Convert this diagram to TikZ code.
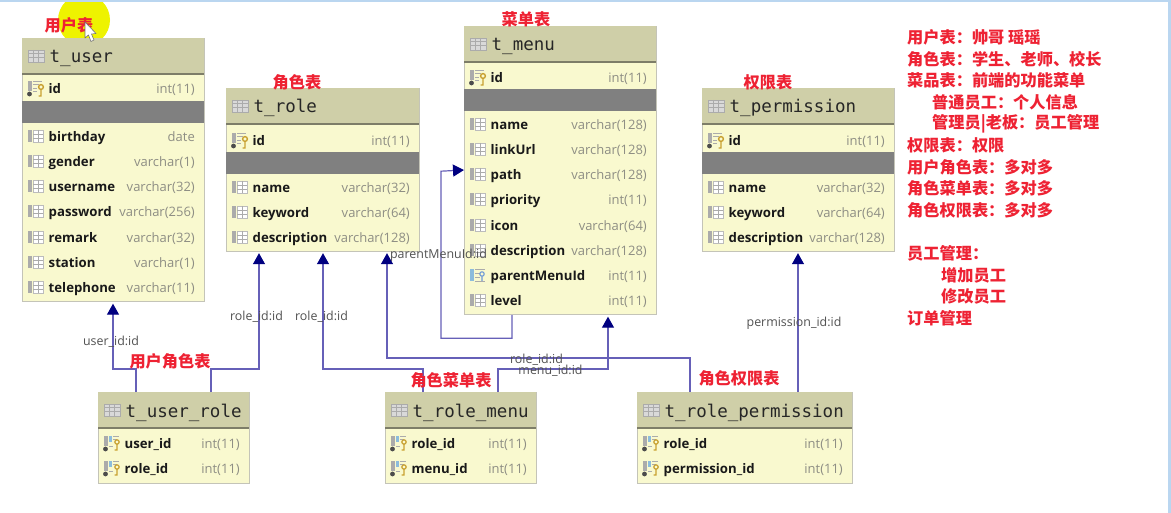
\documentclass[tikz,border=0pt]{standalone}
\usepackage{fontspec}
\setmainfont{Open Sans}
\newfontfamily\cjk{Noto Sans CJK SC}
\newfontfamily\monof{DejaVu Sans Mono}
\usetikzlibrary{arrows.meta}
\definecolor{bodyc}{HTML}{F9F9CF}
\definecolor{headc}{HTML}{CFCFA8}
\definecolor{edgec}{HTML}{C4C4B8}
\definecolor{rulec}{HTML}{7D7D68}
\definecolor{barc}{HTML}{808080}
\definecolor{linec}{HTML}{6660B8}
\definecolor{tipc}{HTML}{000080}
\definecolor{redc}{HTML}{EE2233}
\definecolor{typec}{HTML}{8E8E84}
\definecolor{iconc}{HTML}{ABABAB}
\definecolor{stripc}{HTML}{BAD6F0}
\definecolor{hilite}{HTML}{EEF300}
\definecolor{keyc}{HTML}{C8A030}
\definecolor{fkc}{HTML}{8CBCDC}
\tikzset{
  x=1pt,y=-1pt,
  tablebox/.style={draw=edgec,line width=1.2pt,fill=bodyc,anchor=north west,inner sep=0pt},
  headbox/.style={fill=headc,anchor=north west,inner sep=0pt},
  titletext/.style={font=\monof\fontsize{17.5}{20}\selectfont,text=black!85,anchor=base west,inner sep=0pt},
  fieldname/.style={font=\bfseries\fontsize{13.2}{15}\selectfont,text=black!90,anchor=base west,inner sep=0pt},
  fieldtype/.style={font=\fontsize{13}{15}\selectfont,text=typec,anchor=base east,inner sep=0pt},
  graybar/.style={fill=barc,anchor=north west,inner sep=0pt},
  rel/.style={draw=linec,line width=1.2pt,-{Triangle[length=11pt,width=12pt,color=tipc]}},
  edgelabel/.style={font=\fontsize{12.4}{14}\selectfont,text=black!68,inner sep=0pt},
  redlabel/.style={font=\cjk\bfseries\fontsize{16.2}{18}\selectfont,text=redc,inner sep=0pt},
  noteline/.style={redlabel,anchor=west},
  fieldicon/.pic={
    \fill[iconc] (0,-6) rectangle (4,6);
    \draw[iconc!80,fill=white,line width=.7pt] (5,-6) rectangle (15,6);
    \draw[iconc,line width=.7pt] (5,-2) -- (15,-2) (5,2) -- (15,2) (10,-6) -- (10,6);
  },
  headicon/.pic={
    \fill[iconc!45] (0,-6) rectangle (16,6);
    \draw[iconc,line width=.7pt] (0,-6) rectangle (16,6) (0,-2.5) -- (16,-2.5) (0,1.5) -- (16,1.5) (5,-6) -- (5,6) (10.5,-6) -- (10.5,6);
  },
  pkicon/.pic={
    \fill[iconc] (0,-7) rectangle (3.5,3);
    \draw[iconc,line width=.7pt] (5,-7) -- (14,-7) (5,-3.5) -- (11,-3.5) (5,0) -- (9,0) (5,3.5) -- (9,3.5);
    \fill[black!70] (1.5,6) circle (2.4);
    \draw[keyc,line width=1.4pt] (13,-1) circle (2.4) (13,1.5) -- (13,8) -- (10.5,8);
  },
  fkpkicon/.pic={
    \fill[iconc] (0,-7) rectangle (3.5,3);
    \fill[fkc] (5,-7) rectangle (8,-1);
    \draw[iconc,line width=.7pt] (9,-7) -- (15,-7) (9,-3.5) -- (13,-3.5) (5,3.5) -- (9,3.5);
    \fill[black!70] (1.5,6) circle (2.4);
    \draw[keyc,line width=1.2pt] (13,-1) circle (2.2) (13,1.5) -- (13,7) -- (10.5,7);
  },
  fkicon/.pic={
    \fill[fkc] (0,-6) rectangle (4,6);
    \draw[iconc,line width=.7pt] (5,-6) -- (15,-6) (5,-2) -- (10,-2) (5,2) -- (10,2) (5,6) -- (15,6);
    \draw[cyan!50!blue!60,line width=1.1pt] (12,-1) circle (2.2) (12,1.5) -- (12,6);
  },
}
% table frame: name, x, y, width, height, header height
\newcommand{\tbl}[6]{%
  \node[tablebox,minimum width=#4pt,minimum height=#5pt] (#1) at (#2,#3) {};
  \node[headbox,minimum width=#4pt,minimum height=#6pt] (#1-head) at (#2,#3) {};
  \draw[rulec,line width=1.2pt] ({#2},{#3+#6}) -- ({#2+#4},{#3+#6});
  \pic at ({#2+6},{#3+#6/2}) {headicon};
  \node[titletext] (#1-title) at ({#2+27.5},{#3+#6/2+7}) {\detokenize{#1}};
}
% field row: table, x, width, y, icon, name, type
\newcommand{\frow}[7]{%
  \pic at ({#2+6},{#4}) {#5};
  \node[fieldname] (#1-#6) at ({#2+26.5},{#4+5.2}) {\detokenize{#6}};
  \node[fieldtype] (#1-#6-type) at ({#2+#3-9},{#4+5.2}) {#7};
}
% separator bar: table, x, width, y, height
\newcommand{\gbar}[5]{%
  \node[graybar,minimum width=#3pt,minimum height=#5pt] (#1-bar) at (#2,#4) {};
}
\begin{document}
\begin{tikzpicture}
\useasboundingbox (0,0) rectangle (1171,513);
\fill[white] (0,0) rectangle (1171,513);
% highlight
\fill[hilite] (84,20) circle (26);
\tbl{t_user}{22}{38}{182}{263}{36}
\frow{t_user}{22}{182}{88}{pkicon}{id}{int(11)}
\gbar{t_user}{22}{182}{101}{22}
\frow{t_user}{22}{182}{136}{fieldicon}{birthday}{date}
\frow{t_user}{22}{182}{161}{fieldicon}{gender}{varchar(1)}
\frow{t_user}{22}{182}{186}{fieldicon}{username}{varchar(32)}
\frow{t_user}{22}{182}{211}{fieldicon}{password}{varchar(256)}
\frow{t_user}{22}{182}{237}{fieldicon}{remark}{varchar(32)}
\frow{t_user}{22}{182}{262}{fieldicon}{station}{varchar(1)}
\frow{t_user}{22}{182}{287}{fieldicon}{telephone}{varchar(11)}
%
\tbl{t_role}{226}{88}{193}{163}{36}
\frow{t_role}{226}{193}{140}{pkicon}{id}{int(11)}
\gbar{t_role}{226}{193}{152}{22}
\frow{t_role}{226}{193}{187}{fieldicon}{name}{varchar(32)}
\frow{t_role}{226}{193}{212}{fieldicon}{keyword}{varchar(64)}
\frow{t_role}{226}{193}{237}{fieldicon}{description}{varchar(128)}
%
\tbl{t_menu}{464}{26}{192}{288}{36}
\frow{t_menu}{464}{192}{77}{pkicon}{id}{int(11)}
\gbar{t_menu}{464}{192}{89}{22}
\frow{t_menu}{464}{192}{124}{fieldicon}{name}{varchar(128)}
\frow{t_menu}{464}{192}{149}{fieldicon}{linkUrl}{varchar(128)}
\frow{t_menu}{464}{192}{174}{fieldicon}{path}{varchar(128)}
\frow{t_menu}{464}{192}{199}{fieldicon}{priority}{int(11)}
\frow{t_menu}{464}{192}{225}{fieldicon}{icon}{varchar(64)}
\frow{t_menu}{464}{192}{250}{fieldicon}{description}{varchar(128)}
\frow{t_menu}{464}{192}{275}{fkicon}{parentMenuId}{int(11)}
\frow{t_menu}{464}{192}{300}{fieldicon}{level}{int(11)}
%
\tbl{t_permission}{702}{88}{192}{163}{36}
\frow{t_permission}{702}{192}{140}{pkicon}{id}{int(11)}
\gbar{t_permission}{702}{192}{152}{22}
\frow{t_permission}{702}{192}{187}{fieldicon}{name}{varchar(32)}
\frow{t_permission}{702}{192}{212}{fieldicon}{keyword}{varchar(64)}
\frow{t_permission}{702}{192}{237}{fieldicon}{description}{varchar(128)}
%
\tbl{t_user_role}{98}{392}{151}{91}{36}
\frow{t_user_role}{98}{151}{443}{fkpkicon}{user_id}{int(11)}
\frow{t_user_role}{98}{151}{468}{fkpkicon}{role_id}{int(11)}
%
\tbl{t_role_menu}{385}{392}{151}{91}{36}
\frow{t_role_menu}{385}{151}{443}{fkpkicon}{role_id}{int(11)}
\frow{t_role_menu}{385}{151}{468}{fkpkicon}{menu_id}{int(11)}
%
\tbl{t_role_permission}{637}{392}{215}{91}{36}
\frow{t_role_permission}{637}{215}{443}{fkpkicon}{role_id}{int(11)}
\frow{t_role_permission}{637}{215}{468}{fkpkicon}{permission_id}{int(11)}
% connectors
\draw[rel,shorten >=1.5pt] ([xshift=38pt]t_user_role.north west) -- ++(0,-23) -- ++(-23,0) -- ([xshift=91pt]t_user.south west);
\draw[rel,shorten >=1pt] ([xshift=113pt]t_user_role.north west) -- ++(0,-23) -- ++(48,0) -- ([xshift=33pt]t_role.south west);
\draw[rel,shorten >=1pt] ([xshift=38pt]t_role_menu.north west) -- ++(0,-23) -- ++(-100,0) -- ([xshift=97pt]t_role.south west);
\draw[rel,shorten >=1.5pt] ([xshift=113pt]t_role_menu.north west) -- ++(0,-23) -- ++(110,0) -- ([xshift=144pt]t_menu.south west);
\draw[rel,shorten >=1pt] ([xshift=53pt]t_role_permission.north west) -- ++(0,-34) -- ++(-303,0) -- ([xshift=161pt]t_role.south west);
\draw[rel,shorten >=1pt] ([xshift=161pt]t_role_permission.north west) -- ([xshift=96pt]t_permission.south west);
\draw[rel] ([xshift=48pt]t_menu.south west) -- ++(0,23) -- ++(-71,0) -- ++(0,-167) -- ([yshift=-144pt]t_menu.north west);
% connector labels
\node[edgelabel] (l1) at (111,342) {user\_id:id};
\node[edgelabel] (l2) at (256.5,317) {role\_id:id};
\node[edgelabel] (l3) at (321.5,317) {role\_id:id};
\node[edgelabel] (l4) at (438.5,255) {parentMenuId:id};
\node[edgelabel] (l5) at (536.5,360) {role\_id:id};
\node[edgelabel] (l6) at (550.5,371) {menu\_id:id};
\node[edgelabel] (l7) at (794,323) {permission\_id:id};
% table captions
\node[redlabel] (c1) at (69,25) {用户表};
\node[redlabel] (c2) at (297,82) {角色表};
\node[redlabel] (c3) at (526,19) {菜单表};
\node[redlabel] (c4) at (768,82) {权限表};
\node[redlabel] (c5) at (170,361) {用户角色表};
\node[redlabel] (c6) at (451,380) {角色菜单表};
\node[redlabel] (c7) at (739,378) {角色权限表};
% notes
\node[noteline] (n1) at (907,37.5) {用户表：帅哥 瑶瑶};
\node[noteline] (n2) at (907,59.5) {角色表：学生、老师、校长};
\node[noteline] (n3) at (907,80.5) {菜品表：前端的功能菜单};
\node[noteline] (n4) at (932,102.5) {普通员工：个人信息};
\node[noteline] (n5) at (932,123.5) {管理员|老板：员工管理};
\node[noteline] (n6) at (907,145.5) {权限表：权限};
\node[noteline] (n7) at (907,167.5) {用户角色表：多对多};
\node[noteline] (n8) at (907,188.5) {角色菜单表：多对多};
\node[noteline] (n9) at (907,210.5) {角色权限表：多对多};
\node[noteline] (n10) at (907,253.5) {员工管理：};
\node[noteline] (n11) at (941,275.5) {增加员工};
\node[noteline] (n12) at (941,296.5) {修改员工};
\node[noteline] (n13) at (907,318.5) {订单管理};
% mouse cursor
\draw[black!55,fill=white,line width=.6pt,line join=round] (85,22) -- (85,38) -- (88.5,35) -- (91,41.5) -- (94,40) -- (91.5,34) -- (96,33.5) -- cycle;
% window edge
\fill[stripc] (0,0) rectangle (1171,2);
\fill[stripc] (1168,0) rectangle (1171,513);
\end{tikzpicture}
\end{document}
